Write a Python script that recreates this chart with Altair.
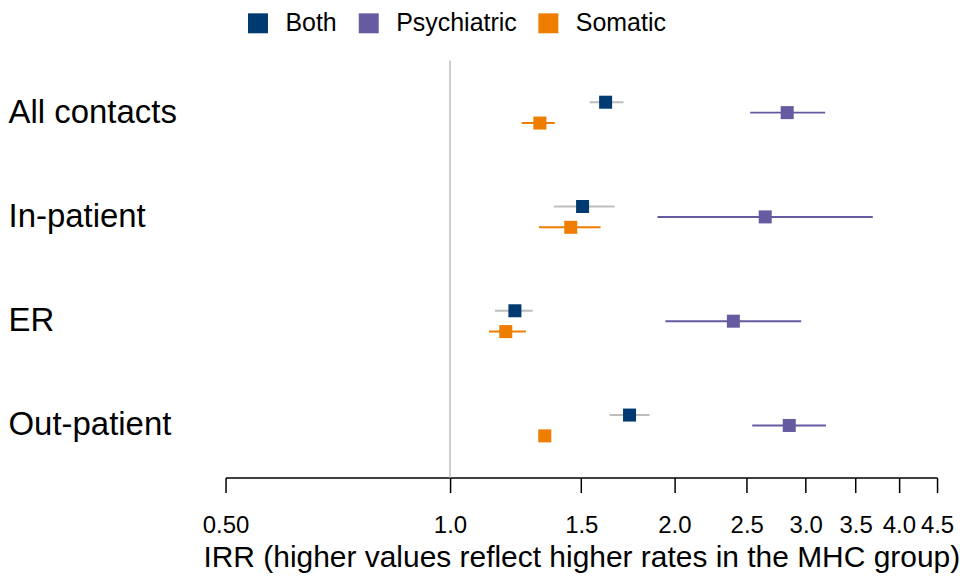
import altair as alt
import pandas as pd

outcomes = ["All contacts", "In-patient", "ER", "Out-patient"]
groups = ["Both", "Psychiatric", "Somatic"]

irr_both = [1.617, 1.506, 1.222, 1.741]
lo_both = [1.539, 1.378, 1.149, 1.637]
hi_both = [1.709, 1.662, 1.291, 1.852]

irr_psych = [2.833, 2.647, 2.399, 2.851]
lo_psych = [2.527, 1.898, 1.945, 2.543]
hi_psych = [3.185, 3.690, 2.958, 3.193]

irr_som = [1.320, 1.452, 1.188, 1.340]
lo_som = [1.248, 1.316, 1.128, 1.330]
hi_som = [1.382, 1.592, 1.264, 1.350]

x_ticks = [0.5, 1.0, 1.5, 2.0, 2.5, 3.0, 3.5, 4.0, 4.5]
reference_value = [1.0]

point_colors = ["#003a70", "#665aa1", "#ef7d00"]
ci_colors = ["#bdbdbd", "#665aa1", "#ef7d00"]

rows = []
for g, est, lo, hi in [("Both", irr_both, lo_both, hi_both),
                       ("Psychiatric", irr_psych, lo_psych, hi_psych),
                       ("Somatic", irr_som, lo_som, hi_som)]:
    for o, e, l, h in zip(outcomes, est, lo, hi):
        rows.append({"outcome": o, "group": g, "irr": e, "lo": l, "hi": h})
df = pd.DataFrame(rows)
ref_df = pd.DataFrame({"ref": reference_value})

FONT = "Liberation Sans"

xscale = alt.Scale(type="log", domain=[0.5, 4.5], nice=False, zero=False)
yscale = alt.Scale(domain=outcomes, paddingInner=0, paddingOuter=0)
yoff_scale = alt.Scale(type="band", domain=groups, paddingInner=0, paddingOuter=0, range=[36.6, 67.9])


def x_enc(field):
    return alt.X(
        field, scale=xscale,
        title="IRR (higher values reflect higher rates in the MHC group)",
        axis=alt.Axis(
            values=x_ticks,
            labelExpr="datum.value == 0.5 ? '0.50' : format(datum.value, '.1f')",
            grid=False, domainColor="black", domainWidth=1.5,
            tickColor="black", tickWidth=1.5, tickSize=15,
            labelFontSize=24, labelColor="black", labelPadding=21,
            labelFlush=False, labelOverlap=False,
            titleFontSize=30, titleFontWeight="normal", titleColor="black",
            titlePadding=5,
        ),
    )


y_enc = alt.Y(
    "outcome:N", scale=yscale, title=None,
    axis=alt.Axis(
        domain=False, ticks=False, tickSize=0, grid=False,
        labelFontSize=33, labelColor="black", labelAlign="left",
        labelPadding=218, labelLimit=400,
    ),
)

ref_rule = alt.Chart(ref_df).mark_rule(color="#cfcfcf", strokeWidth=2).encode(
    x=alt.X("ref:Q", scale=xscale)
)

ci = alt.Chart(df).mark_rule(strokeWidth=2).encode(
    x=x_enc("lo:Q"),
    x2="hi:Q",
    y=y_enc,
    yOffset=alt.YOffset("group:N", scale=yoff_scale),
    color=alt.Color("group:N", scale=alt.Scale(domain=groups, range=ci_colors), legend=None),
)

pts = alt.Chart(df).mark_square(size=170, opacity=1, filled=True).encode(
    x=x_enc("irr:Q"),
    y=y_enc,
    yOffset=alt.YOffset("group:N", scale=yoff_scale),
    color=alt.Color(
        "group:N", scale=alt.Scale(domain=groups, range=point_colors),
        legend=alt.Legend(
            title=None, orient="none", legendX=20, legendY=-50,
            direction="horizontal", symbolType="square", symbolSize=400,
            symbolStrokeWidth=0, symbolOpacity=1,
            labelFontSize=25, labelColor="black", labelOffset=15,
            columnPadding=19, padding=0,
        ),
    ),
)

chart = (
    alt.layer(ref_rule, ci, pts)
    .resolve_scale(color="independent")
    .properties(width=713, height=418, padding={"left": 0, "top": 2, "right": 0, "bottom": 0})
    .configure(font=FONT)
    .configure_view(stroke=None)
)

chart.save("out.html", embed_options={"renderer": "svg", "actions": False})
